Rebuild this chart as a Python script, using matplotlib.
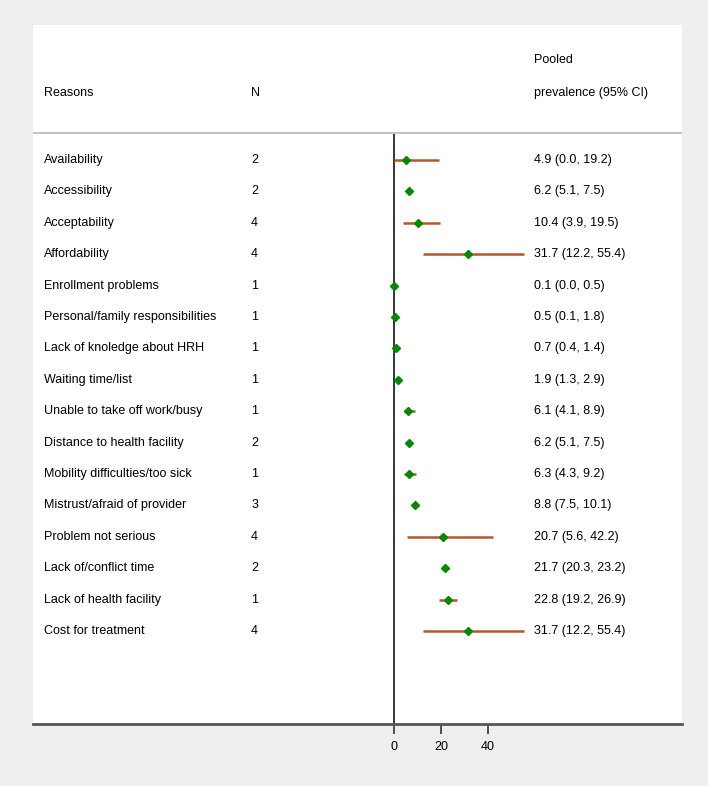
import matplotlib.pyplot as plt
from matplotlib.transforms import blended_transform_factory

reasons = ["Availability", "Accessibility", "Acceptability", "Affordability",
           "Enrollment problems", "Personal/family responsibilities",
           "Lack of knoledge about HRH", "Waiting time/list",
           "Unable to take off work/busy", "Distance to health facility",
           "Mobility difficulties/too sick", "Mistrust/afraid of provider",
           "Problem not serious", "Lack of/conflict time",
           "Lack of health facility", "Cost for treatment"]
n_studies = [2, 2, 4, 4, 1, 1, 1, 1, 1, 2, 1, 3, 4, 2, 1, 4]
estimate = [4.9, 6.2, 10.4, 31.7, 0.1, 0.5, 0.7, 1.9, 6.1, 6.2, 6.3, 8.8, 20.7, 21.7, 22.8, 31.7]
lower = [0.0, 5.1, 3.9, 12.2, 0.0, 0.1, 0.4, 1.3, 4.1, 5.1, 4.3, 7.5, 5.6, 20.3, 19.2, 12.2]
upper = [19.2, 7.5, 19.5, 55.4, 0.5, 1.8, 1.4, 2.9, 8.9, 7.5, 9.2, 10.1, 42.2, 23.2, 26.9, 55.4]
x_ticks = [0, 20, 40]

plt.rcParams['font.family'] = ['Liberation Sans', 'DejaVu Sans']

W, H = 708, 786
fig = plt.figure(figsize=(W / 100, H / 100), dpi=100, facecolor='#efefef')
ax = fig.add_axes([33 / W, (H - 724) / H, 649 / W, 699 / H])
ax.set_facecolor('white')

rows = list(range(1, len(reasons) + 1))

# confidence intervals and point estimates
for r, lo, hi in zip(rows, lower, upper):
    ax.plot([lo, hi], [r, r], color='#b5562b', lw=1.8, solid_capstyle='butt', zorder=2)
ax.plot(estimate, rows, linestyle='none', marker='D', color='#008a00', markersize=4.5, zorder=3)

# null line and header line
ax.plot([0, 0], [0.14, 18.96], color='black', lw=1.1, zorder=1)
ax.axhline(0.14, color='#c4c4c4', lw=1.5)

ax.set_xlim(-153.6, 122.55)
ax.set_ylim(18.96, -3.3)

tr = blended_transform_factory(ax.transAxes, ax.transData)
fs = 9
for r, name, n, e, lo, hi in zip(rows, reasons, n_studies, estimate, lower, upper):
    ax.text(0.017, r, name, transform=tr, va='center', fontsize=fs)
    ax.text(0.336, r, str(n), transform=tr, va='center', fontsize=fs)
    ax.text(0.772, r, f"{e:.1f} ({lo:.1f}, {hi:.1f})", transform=tr, va='center', fontsize=fs)

ax.text(0.017, -1.13, "Reasons", transform=tr, va='center', fontsize=fs)
ax.text(0.336, -1.13, "N", transform=tr, va='center', fontsize=fs)
ax.text(0.772, -2.18, "Pooled", transform=tr, va='center', fontsize=fs)
ax.text(0.772, -1.13, "prevalence (95% CI)", transform=tr, va='center', fontsize=fs)

for side in ['top', 'left', 'right']:
    ax.spines[side].set_visible(False)
ax.spines['bottom'].set_color('#555555')
ax.spines['bottom'].set_linewidth(2)
ax.set_yticks([])
ax.set_xticks(x_ticks)
ax.tick_params(axis='x', direction='out', length=7, width=1.2, color='#333333',
               labelsize=fs, pad=5)

fig.savefig('out.png', dpi=100, facecolor=fig.get_facecolor())
